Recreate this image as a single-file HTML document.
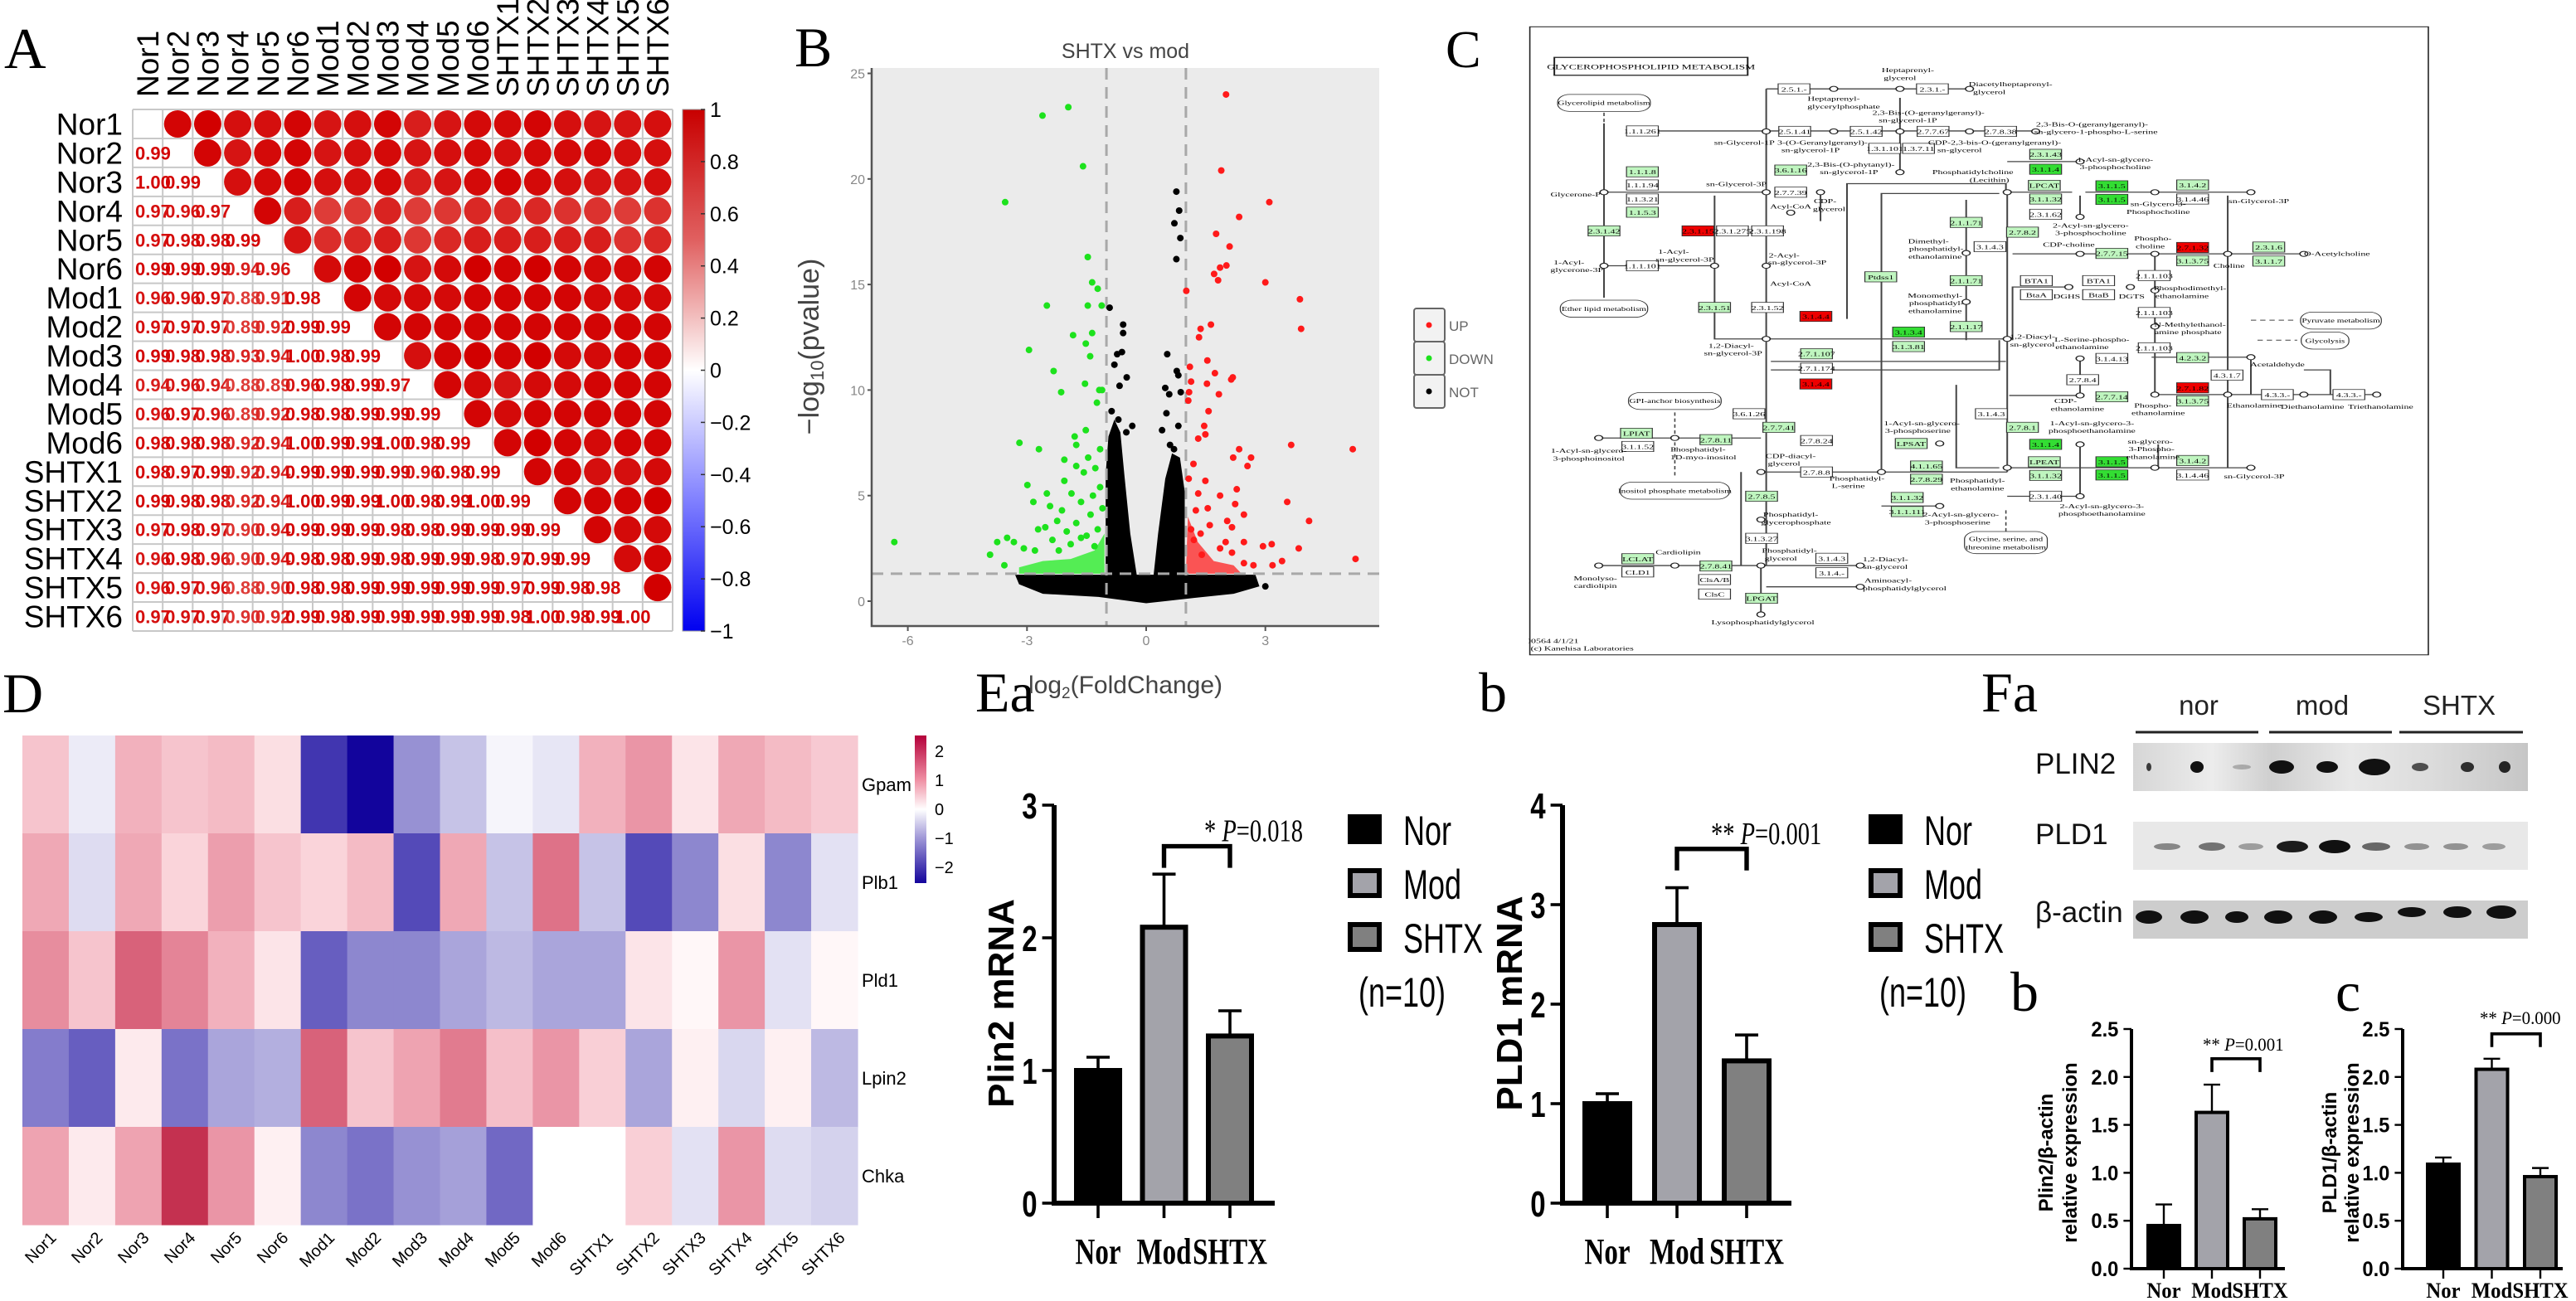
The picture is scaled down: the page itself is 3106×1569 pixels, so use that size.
<!DOCTYPE html>
<html><head><meta charset="utf-8">
<style>
html,body{margin:0;padding:0;background:#fff;}
svg{display:block;}
.ser{font-family:"Liberation Serif",serif;}
.san{font-family:"Liberation Sans",sans-serif;}
</style></head>
<body>
<svg id="fig" xmlns="http://www.w3.org/2000/svg" width="3106" height="1569" viewBox="0 0 3106 1569">
<defs>
<linearGradient id="gA" x1="0" y1="0" x2="0" y2="1">
<stop offset="0" stop-color="#c80000"/><stop offset="0.25" stop-color="#e06060"/><stop offset="0.5" stop-color="#ffffff"/><stop offset="0.75" stop-color="#8080ff"/><stop offset="1" stop-color="#0000f0"/>
</linearGradient>
<linearGradient id="gD" x1="0" y1="0" x2="0" y2="1">
<stop offset="0" stop-color="#b4003a"/><stop offset="0.3" stop-color="#ef8fa3"/><stop offset="0.5" stop-color="#ffffff"/><stop offset="0.7" stop-color="#9d95d6"/><stop offset="1" stop-color="#14049c"/>
</linearGradient>
<linearGradient id="gBlot" x1="0" y1="0" x2="1" y2="0">
<stop offset="0" stop-color="#d6d6d6"/><stop offset="0.2" stop-color="#ececec"/><stop offset="0.35" stop-color="#cfcfcf"/><stop offset="0.55" stop-color="#e8e8e8"/><stop offset="0.75" stop-color="#dcdcdc"/><stop offset="1" stop-color="#c6c6c6"/>
</linearGradient>
</defs>
<text class="ser" x="5" y="82" font-size="70">A</text>
<text class="ser" x="958" y="80" font-size="68">B</text>
<text class="ser" x="1743" y="81" font-size="64">C</text>
<text class="ser" x="3" y="859" font-size="68">D</text>
<text class="ser" x="1176" y="858" font-size="68">Ea</text>
<text class="ser" x="1783" y="858" font-size="68">b</text>
<text class="ser" x="2389" y="858" font-size="68">Fa</text>
<text class="ser" x="2424" y="1219" font-size="68">b</text>
<text class="ser" x="2816" y="1219" font-size="68">c</text>
<g id="pA"></g>
<g id="pB"></g>
<svg id="pC" x="1843" y="0" width="1263" height="800" viewBox="-21 0 1582 1560" preserveAspectRatio="none"></svg>
<g id="pD"></g>
<g id="pE"></g>
<g id="pF"></g>
</svg>
<script>
const NS='http://www.w3.org/2000/svg';
function mk(tag,attrs,parent){const e=document.createElementNS(NS,tag);for(const k in attrs)e.setAttribute(k,attrs[k]);parent.appendChild(e);return e;}
function tx(s,attrs,parent){const e=mk('text',attrs,parent);e.textContent=s;return e;}

/* ================= Panel A : correlation ================= */
const corrLabels=['Nor1','Nor2','Nor3','Nor4','Nor5','Nor6','Mod1','Mod2','Mod3','Mod4','Mod5','Mod6','SHTX1','SHTX2','SHTX3','SHTX4','SHTX5','SHTX6'];
const corrLower=[
[],
[0.99],
[1.00,0.99],
[0.97,0.96,0.97],
[0.97,0.98,0.98,0.99],
[0.99,0.99,0.99,0.94,0.96],
[0.96,0.96,0.97,0.88,0.91,0.98],
[0.97,0.97,0.97,0.89,0.92,0.99,0.99],
[0.99,0.98,0.98,0.93,0.94,1.00,0.98,0.99],
[0.94,0.96,0.94,0.88,0.89,0.96,0.98,0.99,0.97],
[0.96,0.97,0.96,0.89,0.92,0.98,0.98,0.99,0.99,0.99],
[0.98,0.98,0.98,0.92,0.94,1.00,0.99,0.99,1.00,0.98,0.99],
[0.98,0.97,0.99,0.92,0.94,0.99,0.99,0.99,0.99,0.96,0.98,0.99],
[0.99,0.98,0.98,0.92,0.94,1.00,0.99,0.99,1.00,0.98,0.99,1.00,0.99],
[0.97,0.98,0.97,0.90,0.94,0.99,0.99,0.99,0.98,0.98,0.99,0.99,0.99,0.99],
[0.96,0.98,0.96,0.90,0.94,0.98,0.98,0.99,0.98,0.99,0.99,0.98,0.97,0.99,0.99],
[0.96,0.97,0.96,0.88,0.90,0.98,0.98,0.99,0.99,0.99,0.99,0.99,0.97,0.99,0.98,0.98],
[0.97,0.97,0.97,0.90,0.92,0.99,0.98,0.99,0.99,0.99,0.99,0.99,0.98,1.00,0.98,0.99,1.00]];
const corrTicks=[1,0.8,0.6,0.4,0.2,0,-0.2,-0.4,-0.6,-0.8,-1];
(function(){
const g=document.getElementById('pA');
const gx0=160,gy0=132,gw=651,gh=629,n=corrLabels.length,cw=gw/n,ch=gh/n;
const cx=j=>gx0+(j+0.5)*cw, cy=i=>gy0+(i+0.5)*ch;
function col(v){const t=Math.max(0,Math.min(1,(1-v)/0.15));return 'rgb('+Math.round(210+15*t)+','+Math.round(0+75*t)+','+Math.round(0+70*t)+')';}
for(let i=0;i<=n;i++){
 const l=mk('line',{x1:gx0,x2:gx0+gw,y1:gy0+i*ch,y2:gy0+i*ch,stroke:'#c8c8c8','stroke-width':2},g);
 
 
 const v=mk('line',{y1:gy0,y2:gy0+gh,x1:gx0+i*cw,x2:gx0+i*cw,stroke:'#c8c8c8','stroke-width':2},g);
 
 
}
corrLabels.forEach((lab,i)=>{
 const r=tx(lab,{x:148,y:cy(i)+13,'text-anchor':'end','font-size':37,class:'san'},g);
 
 
 const c=tx(lab,{x:cx(i)+13,y:117,'font-size':37,class:'san',transform:'rotate(-90 '+(cx(i)+13)+' 117)'},g);
 
 
});
for(let i=0;i<n;i++){for(let j=0;j<n;j++){
 if(j>i){const v=corrLower[j][i];
  const c=mk('circle',{cx:cx(j),cy:cy(i),r:16.5,fill:col(v)},g);
  
  
 } else if(j<i){const v=corrLower[i][j];
  const t=tx(v.toFixed(2),{x:gx0+j*cw+3,y:cy(i)+8,'font-size':22,'font-weight':'bold',fill:col(v),class:'san'},g);
  
  
 }
}}
const cb=mk('rect',{x:823,y:gy0,width:27,height:gh,fill:'url(#gA)',stroke:'#999','stroke-width':1},g);


corrTicks.forEach(v=>{const y=gy0+(1-v)/2*gh;
 const tk=mk('line',{x1:845,x2:850,y1:y,y2:y,stroke:'#333','stroke-width':1.5},g);
 
 
 const t=tx(v===0?'0':(v<0?'\u2212'+Math.abs(v):String(v)),{x:856,y:y+9,'font-size':25,class:'san'},g);
 
 
});
})();

/* ================= Panel B : volcano ================= */
const volXTicks=[-6,-3,0,3];
const volYTicks=[0,5,10,15,20,25];
const downX=[-2.61,-1.96,-1.59,-3.55,-1.47,-1.36,-1.22,-1.47,-2.5,-1.12,-1.36,-1.84,-1.52,-2.95,-1.41,-2.33,-1.54,-2.14,-1.18,-1.11,-1.24,-1.52,-1.8,-3.19,-2.7,-1.76,-1.16,-1.46,-2.06,-1.76,-1.57,-1.28,-2.06,-2.99,-1.16,-2.5,-1.88,-2.84,-2.42,-1.64,-1.34,-2.12,-1.4,-2.24,-1.76,-2.72,-2.54,-2.0,-1.22,-3.5,-6.34,-3.75,-3.33,-3.08,-3.93,-3.57,-2.36,-1.64,-1.3,-1.9,-2.8,-1.1,-1.5,-2.2];
const downY=[23.0,23.4,20.6,18.9,16.3,15.1,14.8,14.0,14.0,14.0,12.7,12.6,12.2,11.9,11.6,10.9,10.3,9.9,10.0,10.0,9.4,8.1,7.8,7.5,7.2,7.4,7.2,6.8,6.7,6.4,6.1,6.3,5.7,5.5,5.4,5.1,5.1,4.7,4.5,4.7,5.0,4.3,4.1,3.8,3.7,3.4,3.5,3.3,3.4,3.0,2.8,2.8,2.8,2.5,2.2,1.7,2.9,3.0,2.6,2.7,2.4,4.4,3.1,2.4];
const upX=[2.01,1.89,3.1,2.34,1.76,2.1,2.02,1.86,1.71,1.81,3.0,1.01,3.87,3.9,1.63,1.37,1.33,1.54,1.1,1.73,2.18,2.14,1.13,1.53,1.08,1.83,1.06,1.57,1.46,1.49,1.31,3.65,5.2,2.34,2.64,2.19,2.55,1.19,1.07,1.49,1.31,1.86,2.28,2.24,3.55,1.25,1.55,2.46,4.1,2.04,2.16,1.13,1.37,2.46,2.94,3.16,3.84,1.86,2.16,5.27,3.42,3.18,2.7,2.46,1.2,1.6,2.0,1.4];
const upY=[24.0,20.4,18.9,18.2,17.4,16.8,15.9,15.8,15.5,15.2,15.1,14.7,14.3,12.9,13.1,12.9,12.5,11.4,11.1,10.8,10.6,10.5,10.4,10.3,9.9,9.8,9.5,9.0,8.3,7.9,7.7,7.4,7.2,7.2,6.8,6.8,6.4,6.5,5.8,5.7,5.1,5.0,5.3,4.6,4.7,4.3,4.4,4.1,3.8,3.8,3.5,3.4,3.2,2.8,2.6,2.7,2.5,2.5,2.3,2.0,1.9,1.7,1.7,1.8,2.9,3.6,2.8,2.2];
const notX=[0.76,0.83,0.71,0.86,0.76,-0.92,-0.58,-0.58,0.53,-0.73,-0.61,-0.8,0.77,0.81,-0.49,-0.67,0.48,0.58,0.87,0.51,-0.87,0.4,0.81,-0.35,3.0,-0.7,-0.5,0.6,0.7];
const notY=[19.4,18.5,17.9,17.2,16.2,13.9,13.1,12.7,11.7,11.7,11.8,11.2,10.9,10.7,10.6,10.2,10.1,9.8,9.9,8.9,9.0,8.1,8.3,8.3,0.7,8.6,8.0,7.4,7.2];
/* density regions (data units) where points overlap into solid fill */
const denseNotBase=[[-3.3,1.25],[2.75,1.25],[2.85,0.7],[2.2,0.35],[1.2,0.15],[0,-0.1],[-1.2,0.2],[-2.6,0.35],[-3.2,0.8]];
const denseNotLeft=[[-1.02,1.2],[-1.02,6.0],[-0.95,7.8],[-0.8,8.6],[-0.65,8.0],[-0.55,6.0],[-0.4,3.2],[-0.2,0.8],[-0.25,1.2]];
const denseNotRight=[[0.15,0.6],[0.3,3.2],[0.48,5.8],[0.65,7.0],[0.85,6.8],[0.97,5.2],[0.97,1.2]];
const denseDown=[[-3.2,1.3],[-1.05,1.3],[-1.05,3.2],[-1.3,2.4],[-1.9,2.0],[-2.6,1.9],[-3.2,1.6]];
const denseUp=[[1.0,1.3],[2.4,1.3],[2.2,1.7],[1.7,1.9],[1.3,2.8],[1.05,4.0]];
(function(){
const g=document.getElementById('pB');
const X=v=>1382+v*47.9, Y=v=>725-v*25.46;
const bg=mk('rect',{x:1051,y:82,width:612,height:673,fill:'#ebebeb'},g);


const poly=(pts,fill,op,name)=>{const p=mk('polygon',{points:pts.map(q=>X(q[0])+','+Y(q[1])).join(' '),fill:fill,'fill-opacity':op},g);
 
 };
poly(denseDown,'#22ee22',0.75,'dense-down-region');
poly(denseUp,'#ff2222',0.75,'dense-up-region');
poly(denseNotBase,'#000',1,'dense-not-base');
poly(denseNotLeft,'#000',1,'dense-not-left');
poly(denseNotRight,'#000',1,'dense-not-right');
const dash={stroke:'#a8a8a8','stroke-width':3,'stroke-dasharray':'14 9'};
[-1,1].forEach(v=>{const l=mk('line',Object.assign({x1:X(v),x2:X(v),y1:82,y2:755},dash),g);
 
 });
const hl=mk('line',Object.assign({x1:1051,x2:1663,y1:Y(1.3),y2:Y(1.3)},dash),g);


const dots=(xs,ys,fill,name)=>xs.forEach((x,i)=>{const c=mk('circle',{cx:X(x),cy:Y(ys[i]),r:4,fill:fill},g);
 
 });
dots(notX,notY,'#000','point-not');
dots(downX,downY,'#1de21d','point-down');
dots(upX,upY,'#ff1a1a','point-up');
const ax=mk('path',{d:'M1051 82 V755 H1663',fill:'none',stroke:'#555','stroke-width':2.5},g);


volYTicks.forEach(v=>{const t=tx(String(v),{x:1043,y:Y(v)+6,'text-anchor':'end','font-size':16,fill:'#888',class:'san'},g);
 
 
 const k=mk('line',{x1:1046,x2:1051,y1:Y(v),y2:Y(v),stroke:'#555','stroke-width':2},g);
 
 });
volXTicks.forEach(v=>{const t=tx(String(v),{x:X(v),y:778,'text-anchor':'middle','font-size':16,fill:'#888',class:'san'},g);
 
 
 const k=mk('line',{x1:X(v),x2:X(v),y1:755,y2:761,stroke:'#555','stroke-width':2},g);
 
 });
const tt=tx('SHTX vs mod',{x:1357,y:70,'text-anchor':'middle','font-size':25,fill:'#444',class:'san'},g);


const yl=mk('text',{x:987,y:418,'text-anchor':'middle','font-size':34,fill:'#444',class:'san',transform:'rotate(-90 987 418)'},g);
yl.innerHTML='\u2212log<tspan font-size="22" dy="6">10</tspan><tspan dy="-6">(pvalue)</tspan>';


const xl=mk('text',{x:1357,y:836,'text-anchor':'middle','font-size':30,fill:'#444',class:'san'},g);
xl.innerHTML='log<tspan font-size="19" dy="6">2</tspan><tspan dy="-6">(FoldChange)</tspan>';


const legCats=['UP','DOWN','NOT'], legCols=['#ff1a1a','#1de21d','#000'];
legCats.forEach((c,i)=>{const y=372+i*40;
 const r=mk('rect',{x:1705,y:y,width:37,height:40,fill:'#f2f2f2',stroke:'#666','stroke-width':2,rx:3},g);
 
 
 const d=mk('circle',{cx:1723,cy:y+20,r:3.5,fill:legCols[i]},g);
 
 
 const t=tx(c,{x:1747,y:y+27,'font-size':17,fill:'#666',class:'san'},g);
 
 });
})();

/* ================= Panel C : KEGG map ================= */
(function(){
const g=document.getElementById('pC');
const fr=mk('rect',{x:-19,y:63,width:1357,height:1477,fill:'#fff',stroke:'#222','stroke-width':2},g);


const lines=[[[338,209],[338,1330]],[[338,209],[640,209]],[[130,308],[750,308]],[[93,290],[93,700]],[[93,452],[338,452]],[[93,625],[260,625]],[[260,460],[260,797],[338,797]],[[338,797],[702,797]],[[702,450],[702,1110]],[[702,452],[800,452]],[[702,380],[810,380]],[[820,452],[1070,452]],[[710,597],[1150,597]],[[1035,460],[1035,1100]],[[330,1110],[702,1110]],[[702,1100],[1070,1100]],[[930,928],[1260,928]],[[460,750],[460,432],[700,432],[700,450]],[[512,1110],[512,455],[690,455]],[[345,870],[690,870],[690,800]],[[345,850],[700,850]],[[625,905],[625,1100],[690,1100]],[[640,470],[640,800]],[[710,800],[710,675],[790,675]],[[300,1110],[300,1330]],[[200,1330],[480,1330]],[[330,1330],[330,1440]],[[338,1380],[480,1380]],[[85,1030],[330,1030]],[[85,1330],[200,1330]],[[1070,840],[1070,928]],[[925,600],[925,930]],[[812,460],[812,510]],[[812,840],[812,930]],[[540,230],[540,400]],[[705,930],[812,930]],[[930,1045],[930,1100]],[[812,1045],[812,1167],[702,1167]],[[512,1190],[600,1190]],[[420,452],[420,520]],[[1150,870],[1190,870],[1190,928]],[[920,840],[1070,840]]];
lines.forEach(p=>{const l=mk('polyline',{points:p.map(q=>q.join(',')).join(' '),fill:'none',stroke:'#444','stroke-width':2.5},g);
 
 });
const dashed=[[[93,265],[93,450]],[[1070,753],[1140,753]],[[1080,800],[1140,800]],[[700,1200],[700,1250]],[[200,970],[200,1120]]];
dashed.forEach(p=>{const l=mk('polyline',{points:p.map(q=>q.join(',')).join(' '),fill:'none',stroke:'#444','stroke-width':2,'stroke-dasharray':'8 6'},g);
 
 });
const nodes=[[93,452],[338,452],[93,625],[260,625],[338,625],[338,797],[702,797],[702,452],[812,380],[925,452],[1070,452],[812,510],[640,595],[640,710],[812,597],[925,597],[1035,597],[1150,597],[795,675],[888,675],[925,683],[925,768],[1070,840],[812,843],[812,930],[925,928],[1035,928],[1150,928],[1260,928],[702,1100],[812,1045],[925,1100],[1070,1100],[812,1167],[600,1190],[600,1043],[512,1110],[330,1110],[200,1030],[85,1030],[200,1330],[85,1330],[330,1330],[480,1330],[480,1380],[330,1445],[330,1222],[420,452],[375,500],[338,309],[440,309],[540,309],[645,309],[745,309],[440,209],[540,209],[645,209],[540,405]];
nodes.forEach(p=>{const c=mk('circle',{cx:p[0],cy:p[1],r:6,fill:'#fff',stroke:'#222','stroke-width':2},g);
 
 });
const white=[['2.5.1.-',380,209],['2.3.1.-',589,209],['1.1.1.261',151,308],['2.5.1.41',381,309],['2.5.1.42',489,309],['2.7.7.67',590,309],['2.7.8.38',692,309],['1.3.1.101',517,349],['1.3.7.11',568,349],['1.1.1.94',151,435],['1.1.3.21',151,468],['2.7.7.39',375,452],['2.3.1.275',287,543],['2.3.1.198',340,543],['1.1.1.101',151,625],['2.3.1.52',340,723],['2.3.1.62',760,504],['3.1.4.3',676,580],['3.1.4.46',982,468],['BTA1',746,660],['BTA1',840,660],['BtaA',746,693],['BtaB',840,693],['2.1.1.103',924,648],['2.1.1.103',924,735],['2.1.1.103',924,818],['3.1.4.13',860,843],['2.7.8.4',816,893],['4.3.1.7',1034,882],['4.3.3.-',1110,928],['4.3.3.-',1218,928],['2.7.1.174',414,866],['3.6.1.26',312,973],['2.7.8.24',414,1036],['3.1.4.3',678,973],['3.1.1.52',144,1050],['2.7.8.8',414,1110],['2.3.1.40',760,1167],['3.1.4.46',982,1117],['3.1.3.27',331,1266],['3.1.4.3',437,1313],['3.1.4.-',437,1347],['CLD1',144,1345],['ClsA/B',260,1363],['ClsC',260,1397]];
const lg=[['1.1.1.8',151,404],['1.1.5.3',151,499],['2.3.1.42',93,543],['3.6.1.16',375,400],['2.3.1.51',260,723],['2.3.1.43',760,363],['LPCAT',758,436],['3.1.1.32',760,468],['2.1.1.71',640,523],['2.7.8.2',725,546],['2.7.7.15',860,596],['3.1.3.75',982,613],['2.3.1.6',1097,581],['3.1.1.7',1097,614],['Ptdss1',511,651],['2.1.1.71',640,660],['2.1.1.17',640,768],['3.1.3.81',553,815],['2.7.1.107',414,832],['4.2.3.2',982,841],['2.7.7.14',860,933],['3.1.3.75',982,943],['2.7.7.41',357,1005],['2.7.8.1',725,1005],['LPIAT',142,1019],['2.7.8.11',262,1034],['LPSAT',557,1043],['LPEAT',758,1086],['3.1.1.32',760,1118],['4.1.1.65',580,1096],['2.7.8.29',580,1127],['3.1.4.2',982,1083],['2.7.8.5',331,1167],['3.1.1.32',551,1170],['3.1.1.111',551,1203],['LCLAT',144,1314],['2.7.8.41',262,1331],['LPGAT',331,1407],['3.1.4.2',982,435]];
const bg=[['3.1.1.4',760,398],['3.1.1.5',860,437],['3.1.1.5',860,469],['3.1.3.4',553,781],['3.1.1.4',760,1045],['3.1.1.5',860,1086],['3.1.1.5',860,1117]];
const red=[['2.3.1.15',235,543],['3.1.4.4',413,744],['2.7.1.32',982,582],['3.1.4.4',413,903],['2.7.1.82',982,912]];
const box=(arr,fill,name)=>arr.forEach(b=>{
 const r=mk('rect',{x:b[1]-24,y:b[2]-12,width:48,height:24,fill:fill,stroke:'#333','stroke-width':1.5},g);
 
 
 const t=tx(b[0],{x:b[1],y:b[2]+6,'text-anchor':'middle','font-size':15,class:'ser'},g);
 
 });
box(white,'#fff','enzyme-box');
box(lg,'#bff5bf','enzyme-box-found');
box(bg,'#33dd33','enzyme-box-down');
box(red,'#ee0000','enzyme-box-up');
const tb=mk('rect',{x:18,y:135,width:292,height:42,fill:'#fff',stroke:'#222','stroke-width':2.5},g);


const tt=tx('GLYCEROPHOSPHOLIPID METABOLISM',{x:164,y:163,'text-anchor':'middle','font-size':17,class:'ser'},g);


const maps=[['Glycerolipid metabolism',93,242,140],['Ether lipid metabolism',93,726,132],['GPI-anchor biosynthesis',200,943,140],['Inositol phosphate metabolism',200,1154,165],['Glycine, serine, and threonine metabolism',700,1276,125],['Pyruvate metabolism',1206,754,122],['Glycolysis',1182,801,72]];
maps.forEach(m=>{const h=m[0].length>30?52:40;
 const r=mk('rect',{x:m[1]-m[3]/2,y:m[2]-h/2,width:m[3],height:h,rx:18,fill:'#fff',stroke:'#333','stroke-width':1.5},g);
 
 
 const t=tx(m[0].length>30?'Glycine, serine, and':m[0],{x:m[1],y:m[2]+(h>45?-4:5),'text-anchor':'middle','font-size':14,class:'ser'},g);
 
 
 if(h>45){const t2=tx('threonine metabolism',{x:m[1],y:m[2]+16,'text-anchor':'middle','font-size':14,class:'ser'},g);
 
 }});
const cmp=[['Glycerone-P',50,462],['sn-Glycerol-3P',293,438],['sn-Glycerol-1P',305,340],['1-Acyl-',40,622],['glycerone-3P',52,640],['1-Acyl-',198,597],['sn-glycerol-3P',215,615],['2-Acyl-',365,605],['sn-glycerol-3P',385,622],['Acyl-CoA',375,490],['Acyl-CoA',375,672],['1,2-Diacyl-',285,818],['sn-glycerol-3P',288,836],['Phosphatidylcholine',650,410],['(Lecithin)',675,428],['1-Acyl-sn-glycero-',865,380],['3-phosphocholine',865,398],['sn-Glycero-3-',930,485],['Phosphocholine',930,503],['sn-Glycerol-3P',1082,478],['2-Acyl-sn-glycero-',828,535],['3-phosphocholine',828,553],['CDP-choline',795,580],['Phospho-',922,566],['choline',918,584],['Choline',1037,630],['O-Acetylcholine',1200,602],['1,2-Diacyl-',740,797],['sn-glycerol',740,815],['L-Serine-phospho-',830,803],['ethanolamine',815,821],['N-Methylethanol-',978,768],['amine phosphate',975,786],['Acetaldehyde',1110,862],['Ethanolamine',1075,958],['Diethanolamine',1163,961],['Triethanolamine',1266,961],['CDP-',790,948],['ethanolamine',808,966],['Phospho-',922,958],['ethanolamine',930,976],['1-Acyl-sn-glycero-3-',830,1000],['phosphoethanolamine',830,1018],['sn-glycero-',918,1043],['3-Phospho-',920,1061],['ethanolamine',922,1079],['sn-Glycerol-3P',1075,1125],['2-Acyl-sn-glycero-3-',845,1195],['phosphoethanolamine',845,1213],['Phosphatidyl-',475,1130],['L-serine',462,1148],['Phosphatidyl-',657,1135],['ethanolamine',657,1153],['CDP-diacyl-',375,1077],['glycerol',365,1095],['Phosphatidyl-',375,1215],['glycerophosphate',383,1233],['Phosphatidyl-',373,1300],['glycerol',360,1318],['Cardiolipin',205,1304],['Monolyso-',80,1365],['cardiolipin',80,1383],['Lysophosphatidylglycerol',333,1468],['1,2-Diacyl-',518,1320],['sn-glycerol',518,1338],['Aminoacyl-',522,1370],['phosphatidylglycerol',547,1388],['1-Acyl-sn-glycero-',70,1065],['3-phosphoinositol',70,1083],['Phosphatidyl-',235,1062],['1D-myo-inositol',243,1080],['Dimethyl-',583,572],['phosphatidyl-',595,590],['ethanolamine',593,608],['Monomethyl-',593,700],['phosphatidyl-',595,718],['ethanolamine',593,736],['1-Acyl-sn-glycero-',573,1000],['3-phosphoserine',567,1018],['2-Acyl-sn-glycero-',632,1215],['3-phosphoserine',627,1233],['DGHS',792,702],['DGTS',890,702],['Phosphodimethyl-',978,683],['ethanolamine',966,701],['Heptaprenyl-',552,170],['glycerol',540,188],['Diacetylheptaprenyl-',707,203],['glycerol',675,221],['Heptaprenyl-',440,237],['glycerylphosphate',455,255],['2,3-Bis-(O-geranylgeranyl)-',583,270],['sn-glycerol-1P',552,288],['2,3-Bis-O-(geranylgeranyl)-',830,297],['sn-glycero-1-phospho-L-serine',836,315],['CDP-2,3-bis-O-(geranylgeranyl)-',683,340],['sn-glycerol',630,358],['3-(O-Geranylgeranyl)-',423,340],['sn-glycerol-1P',405,358],['2,3-Bis-(O-phytanyl)-',466,392],['sn-glycerol-1P',463,410],['CDP-',427,478],['glycerol',433,496],['00564 4/1/21',15,1512],['(c) Kanehisa Laboratories',60,1530]];
cmp.forEach(c=>{const t=tx(c[0],{x:c[1],y:c[2],'text-anchor':'middle','font-size':15,class:'ser'},g);
 
 });
})();

/* ================= Panel D : heatmap ================= */
const hmSamples=['Nor1','Nor2','Nor3','Nor4','Nor5','Nor6','Mod1','Mod2','Mod3','Mod4','Mod5','Mod6','SHTX1','SHTX2','SHTX3','SHTX4','SHTX5','SHTX6'];
const hmGenes=['Gpam','Plb1','Pld1','Lpin2','Chka'];
const hmGpam=[0.5,-0.2,0.7,0.5,0.6,0.25,-2.0,-2.5,-1.1,-0.6,-0.1,-0.25,0.7,1.0,0.2,0.8,0.6,0.45];
const hmPlb1=[0.8,-0.35,0.8,0.35,0.9,0.5,0.35,0.6,-1.8,0.8,-0.6,1.4,-0.6,-1.8,-1.2,0.25,-1.2,-0.3];
const hmPld1=[1.1,0.5,1.6,1.2,0.7,0.2,-1.6,-1.2,-1.2,-0.9,-0.7,-0.9,-0.9,0.2,0.05,1.0,-0.3,0.05];
const hmLpin2=[-1.3,-1.6,0.15,-1.4,-0.9,-0.8,1.6,0.5,0.85,1.3,0.55,1.0,0.4,-0.9,0.1,-0.4,0.1,-0.7];
const hmChka=[0.85,0.15,0.85,2.2,1.0,0.1,-1.2,-1.4,-1.1,-0.95,-1.5,0.0,0.0,0.4,-0.3,1.0,-0.35,-0.45];
const hmTicks=[2,1,0,-1,-2];
(function(){
const g=document.getElementById('pD');
const rows=[hmGpam,hmPlb1,hmPld1,hmLpin2,hmChka];
const x0=27,y0=887,w=1007,h=590,cw=w/hmSamples.length,ch=h/hmGenes.length;
function col(v){let t=Math.min(1,Math.abs(v)/2.5);
 if(v<0){return 'rgb('+Math.round(255-237*t)+','+Math.round(255-251*t)+','+Math.round(255-99*t)+')';}
 return 'rgb('+Math.round(255-70*Math.pow(t,1.3))+','+Math.round(255-230*Math.pow(t,0.85))+','+Math.round(255-195*Math.pow(t,0.85))+')';}
rows.forEach((r,i)=>r.forEach((v,j)=>{
 const c=mk('rect',{x:x0+j*cw,y:y0+i*ch,width:cw+0.6,height:ch+0.6,fill:col(v)},g);
 
 }));
hmGenes.forEach((gn,i)=>{const t=tx(gn,{x:1039,y:y0+(i+0.5)*ch+8,'font-size':22,class:'san'},g);
 
 });
hmSamples.forEach((s,j)=>{const x=x0+(j+0.5)*cw+14,y=1494;
 const t=tx(s,{x:x,y:y,'text-anchor':'end','font-size':20,class:'san',transform:'rotate(-45 '+x+' '+y+')'},g);
 
 });
const cb=mk('rect',{x:1103,y:887,width:14,height:178,fill:'url(#gD)'},g);


hmTicks.forEach(v=>{const t=tx(v<0?'\u2212'+Math.abs(v):String(v),{x:1127,y:976-v*35+7,'font-size':20,class:'san'},g);
 
 });
})();

/* ================= Bar charts ================= */
const barGroups=['Nor','Mod','SHTX'];
const plin2Mean=[1.0,2.08,1.26];
const plin2Err=[0.1,0.4,0.19];
const pld1Mean=[1.0,2.8,1.43];
const pld1Err=[0.1,0.37,0.26];
const plin2ProtMean=[0.45,1.63,0.52];
const plin2ProtErr=[0.22,0.29,0.1];
const pld1ProtMean=[1.09,2.08,0.96];
const pld1ProtErr=[0.07,0.11,0.09];
const mrnaTicksA=[0,1,2,3];
const mrnaTicksB=[0,1,2,3,4];
const protTicks=[0,0.5,1.0,1.5,2.0,2.5];
const barFills=['#000','#a3a3aa','#808080'];
function barChart(g,o){
 const Y=v=>o.y0-(v/o.max)*(o.y0-o.yTop);
 o.means.forEach((m,i)=>{const cx=o.bx0+i*o.step;
  const e=mk('line',{x1:cx,x2:cx,y1:Y(m),y2:Y(m+o.errs[i]),stroke:'#000','stroke-width':o.lw*0.6},g);
  
  
  const cp=mk('line',{x1:cx-o.cap,x2:cx+o.cap,y1:Y(m+o.errs[i]),y2:Y(m+o.errs[i]),stroke:'#000','stroke-width':o.lw*0.6},g);
  
  
  const b=mk('rect',{x:cx-o.bw/2,y:Y(m),width:o.bw,height:o.y0-Y(m),fill:barFills[i],stroke:'#000','stroke-width':o.lw},g);
  
  
  const tk=mk('line',{x1:cx,x2:cx,y1:o.y0,y2:o.y0+o.tick,stroke:'#000','stroke-width':o.lw*0.6},g);
  
  
  const t=tx(barGroups[i],{x:cx,y:o.xlabY,'text-anchor':'middle','font-size':o.xfs,'font-weight':'bold',class:'ser',transform:'translate('+cx+' 0) scale('+o.sx+' 1) translate('+(-cx)+' 0)'},g);
  
  });
 const ax=mk('path',{d:'M'+o.ax+' '+o.yTop+' V'+o.y0+' H'+o.axEnd,fill:'none',stroke:'#000','stroke-width':o.lw},g);
 
 
 o.ticks.forEach(v=>{const k=mk('line',{x1:o.ax-o.tick*0.8,x2:o.ax,y1:Y(v),y2:Y(v),stroke:'#000','stroke-width':o.lw*0.6},g);
  
  
  const x=o.ax-o.tick*0.8-6;
  const t=tx(o.fmt(v),{x:x,y:Y(v)+o.yfs*0.36,'text-anchor':'end','font-size':o.yfs,'font-weight':o.ybold,class:'san',transform:'translate('+x+' 0) scale('+o.sx+' 1) translate('+(-x)+' 0)'},g);
  
  });
 const x1=o.bx0+o.step,x2=o.bx0+2*o.step,by=Y(o.brV);
 const br=mk('path',{d:'M'+x1+' '+(by+o.brH)+' V'+by+' H'+x2+' V'+(by+o.brH),fill:'none',stroke:'#000','stroke-width':o.lw*0.9},g);
 
 
 const st=mk('text',{x:o.sigX,y:by-o.sigDy,'font-size':o.sfs,class:'ser',transform:'translate('+o.sigX+' 0) scale('+o.sx+' 1) translate('+(-o.sigX)+' 0)'},g);
 st.innerHTML=o.stars+' <tspan font-style="italic">P</tspan>='+o.pval;
 
 
 o.ylab.forEach((l,i)=>{const x=o.ylx+i*o.yldx;
  const t=tx(l,{x:x,y:o.yly,'text-anchor':'middle','font-size':o.ylfs,'font-weight':'bold',class:'san',transform:'rotate(-90 '+x+' '+o.yly+')'},g);
  
  });
}
function legend(g,x,y0){
 barGroups.forEach((c,i)=>{const y=y0+i*65;
  const r=mk('rect',{x:x+3,y:y-17,width:35,height:30,fill:barFills[i],stroke:'#000','stroke-width':6},g);
  
  
  const t=tx(c,{x:x+67,y:y+17,'font-size':50,class:'san',transform:'translate('+(x+67)+' 0) scale(0.72 1) translate('+(-(x+67))+' 0)'},g);
  
  });
 const n=tx('(n=10)',{x:x+13,y:y0+212,'font-size':50,class:'san',transform:'translate('+(x+13)+' 0) scale(0.72 1) translate('+(-(x+13))+' 0)'},g);
 
 
}
(function(){
const g=document.getElementById('pE');
barChart(g,{means:plin2Mean,errs:plin2Err,ticks:mrnaTicksA,max:3,y0:1451,yTop:971,ax:1271,axEnd:1537,bx0:1324,step:79.5,bw:52,lw:6,cap:14,tick:18,xlabY:1524,xfs:44,sx:0.75,yfs:44,ybold:'bold',fmt:v=>String(v),brV:2.69,brH:26,sigX:1452,sigDy:6,sfs:38,stars:'*',pval:'0.018',ylab:['Plin2 mRNA'],ylx:1222,yldx:0,yly:1210,ylfs:44});
legend(g,1625,1002);
barChart(g,{means:pld1Mean,errs:pld1Err,ticks:mrnaTicksB,max:4,y0:1451,yTop:971,ax:1884,axEnd:2160,bx0:1938,step:84,bw:54,lw:6,cap:14,tick:18,xlabY:1524,xfs:44,sx:0.75,yfs:44,ybold:'bold',fmt:v=>String(v),brV:3.56,brH:26,sigX:2063,sigDy:6,sfs:38,stars:'**',pval:'0.001',ylab:['PLD1 mRNA'],ylx:1835,yldx:0,yly:1210,ylfs:44});
legend(g,2253,1002);
barChart(g,{means:plin2ProtMean,errs:plin2ProtErr,ticks:protTicks,max:2.5,y0:1530,yTop:1241,ax:2570,axEnd:2755,bx0:2609,step:58,bw:38,lw:4,cap:10,tick:12,xlabY:1565,xfs:26,sx:0.95,yfs:25,ybold:'bold',fmt:v=>v.toFixed(1),brV:2.19,brH:16,sigX:2656,sigDy:10,sfs:22,stars:'**',pval:'0.001',ylab:['Plin2/\u03b2-actin','relative expression'],ylx:2475,yldx:29,yly:1390,ylfs:24});
barChart(g,{means:pld1ProtMean,errs:pld1ProtErr,ticks:protTicks,max:2.5,y0:1530,yTop:1241,ax:2897,axEnd:3090,bx0:2946,step:58.5,bw:38,lw:4,cap:10,tick:12,xlabY:1565,xfs:26,sx:0.95,yfs:25,ybold:'bold',fmt:v=>v.toFixed(1),brV:2.45,brH:16,sigX:2990,sigDy:12,sfs:22,stars:'**',pval:'0.000',ylab:['PLD1/\u03b2-actin','relative expression'],ylx:2817,yldx:27,yly:1390,ylfs:24});
})();

/* ================= Western blot ================= */
const blotProteins=['PLIN2','PLD1','\u03b2-actin'];
const plin2Bands=[[2591,3,5,0.8],[2649,8,7,1],[2703,11,3,0.25],[2751,15,8,1],[2806,13,7,1],[2863,19,10,1],[2918,10,5,0.7],[2975,8,6,0.85],[3020,7,7,0.9]];
const pld1Bands=[[2613,16,4,0.45],[2667,16,5,0.55],[2714,15,4,0.35],[2764,19,7,0.95],[2815,19,8,1],[2865,17,5,0.6],[2914,15,4,0.4],[2961,15,4,0.4],[3007,14,4,0.35]];
const actinBands=[[2591,16,8,1],[2646,17,8,1],[2697,14,7,1],[2747,17,8,1],[2801,17,8,1],[2856,17,6,1],[2908,17,6,1],[2963,17,7,1],[3016,18,8,1]];
(function(){
const g=document.getElementById('pF');
const rowsY=[[896,954,925],[991,1049,1021],[1086,1132,1106]];
const bands=[plin2Bands,pld1Bands,actinBands];
const labY=[933,1018,1112];
rowsY.forEach((r,i)=>{
 const bg=mk('rect',{x:2572,y:r[0],width:476,height:r[1]-r[0],fill:i===2?'#cdcdcd':(i===1?'#e8e8e8':'url(#gBlot)')},g);
 
 
 bands[i].forEach(b=>{const e=mk('ellipse',{cx:b[0],cy:r[2]+(i===2&&b[0]>2880?-6:0),rx:b[1],ry:b[2],fill:'#111','fill-opacity':b[3]},g);
  
  });
 const t=tx(blotProteins[i],{x:2454,y:labY[i],'font-size':35,fill:'#111',class:'san'},g);
 
 });
const grp=[['nor',2651,2575,2723],['mod',2800,2736,2884],['SHTX',2965,2893,3042]];
grp.forEach(q=>{const t=tx(q[0],{x:q[1],y:862,'text-anchor':'middle','font-size':33,fill:'#222',class:'san'},g);
 
 
 const l=mk('line',{x1:q[2],x2:q[3],y1:883,y2:883,stroke:'#222','stroke-width':3},g);
 
 });
})();
</script>
</body></html>
